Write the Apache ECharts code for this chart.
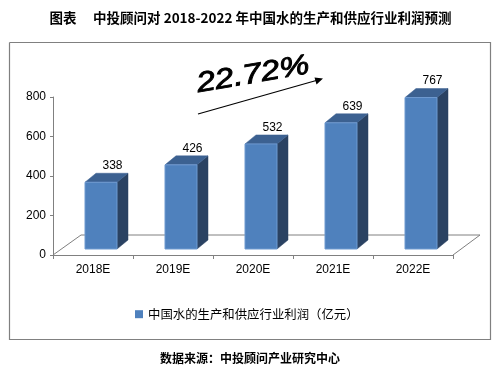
<!DOCTYPE html>
<html>
<head>
<meta charset="utf-8">
<script src="https://cdn.jsdelivr.net/npm/echarts@6/dist/echarts.min.js"></script>
<style>
html,body{margin:0;padding:0;background:#fff;}
#main{width:501px;height:371px;}
</style>
</head>
<body>
<div id="main"></div>
<script>
const categories = ['2018E', '2019E', '2020E', '2021E', '2022E'];
const profits = [338, 426, 532, 639, 767];
const seriesName = '中国水的生产和供应行业利润（亿元）';
const titleText = '图表　 中投顾问对 2018-2022 年中国水的生产和供应行业利润预测';
const sourceText = '数据来源：中投顾问产业研究中心';
const growthText = '22.72%';

const FRONT = '#4F81BD', SIDE = '#2A4262', TOP = '#3C6191';
const chart = echarts.init(document.getElementById('main'));

function renderBar(params, api) {
  const idx = api.value(0);
  const val = api.value(1);
  const p0 = api.coord([idx, 0]);
  const p1 = api.coord([idx, val]);
  const cx = p0[0];
  const base = p0[1] - 6;
  const top = p1[1] - 6;
  const l = cx - 8, r = cx + 24, dx = 11, dy = 9;
  return {
    type: 'group',
    children: [
      { type: 'polygon', shape: { points: [[r, base], [r + dx, base - dy], [r + dx, top - dy], [r, top]] },
        style: { fill: SIDE, stroke: SIDE, lineWidth: 0.5 } },
      { type: 'polygon', shape: { points: [[l, top], [l + dx, top - dy], [r + dx, top - dy], [r, top]] },
        style: { fill: TOP, stroke: TOP, lineWidth: 0.5 } },
      { type: 'rect', shape: { x: l, y: top, width: r - l, height: base - top },
        style: { fill: FRONT, stroke: '#6F9AD0', lineWidth: 1 } },
      { type: 'text', x: cx + 19.5, y: top - 16.5,
        style: { text: String(val), fill: '#000', font: '12px "Liberation Sans", Arial, sans-serif', align: 'center', verticalAlign: 'middle' } }
    ]
  };
}

chart.setOption({
  animation: false,
  backgroundColor: '#fff',
  title: {
    text: titleText, left: 'center', top: 6,
    textStyle: { fontSize: 13.5, fontWeight: 'bold', color: '#000', fontFamily: '"Noto Sans CJK SC", sans-serif' }
  },
  legend: {
    data: [seriesName], left: 130, top: 303,
    icon: 'rect', itemWidth: 8, itemHeight: 8,
    textStyle: { fontSize: 12.4, color: '#000', fontFamily: '"Noto Sans CJK SC", sans-serif' }
  },
  grid: { left: 53, right: 48, top: 97, bottom: 116 },
  xAxis: {
    type: 'category', data: categories, boundaryGap: true,
    axisLine: { lineStyle: { color: '#808080', width: 1 } },
    axisTick: { show: true, length: 4, lineStyle: { color: '#808080' } },
    axisLabel: { fontSize: 12, color: '#000', margin: 9, fontFamily: '"Liberation Sans", Arial, sans-serif' }
  },
  yAxis: {
    type: 'value', min: 0, max: 800, interval: 200,
    splitLine: { show: false },
    axisLine: { show: true, lineStyle: { color: '#808080', width: 1 } },
    axisTick: { show: true, length: 3, lineStyle: { color: '#808080' } },
    axisLabel: { fontSize: 12, color: '#000', margin: 7, fontFamily: '"Liberation Sans", Arial, sans-serif' }
  },
  series: [{
    name: seriesName, type: 'custom', renderItem: renderBar,
    itemStyle: { color: FRONT },
    data: profits.map((v, i) => [i, v]), z: 5
  }]
});

// floor (3D base) derived from the axis geometry
const c0 = chart.convertToPixel({ xAxisIndex: 0 }, 0);
const c1 = chart.convertToPixel({ xAxisIndex: 0 }, 1);
const step = c1 - c0;
const yZero = chart.convertToPixel({ yAxisIndex: 0 }, 0);
const xLeft = c0 - step / 2;
const xRight = xLeft + step * categories.length;
const fdx = 28, fdy = 20;
const gray = '#808080';
chart.setOption({
  graphic: [
    { type: 'polyline', z: 1, silent: true,
      shape: { points: [[9.5, 42.5], [490.5, 42.5], [490.5, 339.5], [9.5, 339.5], [9.5, 42.5]] },
      style: { fill: null, stroke: gray, lineWidth: 1.2 } },
    { type: 'polyline', z: 1, silent: true, shape: { points: [[xLeft, yZero], [xLeft + fdx, yZero - fdy], [xRight + fdx - 1, yZero - fdy], [xRight, yZero]] },
      style: { fill: null, stroke: gray, lineWidth: 1 } },
    { type: 'text', z: 10, x: 253, y: 75, rotation: 0.17, scaleX: 1.2, scaleY: 1,
      style: { text: growthText, font: 'italic 28px "Liberation Sans", Arial, sans-serif', fill: '#000', stroke: '#000', lineWidth: 0.9, align: 'center', verticalAlign: 'middle' } },
    { type: 'line', z: 10, shape: { x1: 198, y1: 114, x2: 318, y2: 80 }, style: { stroke: '#000', lineWidth: 1.2 } },
    { type: 'polygon', z: 10, shape: { points: [[323, 78.5], [314.5, 77.5], [316.5, 84.5]] }, style: { fill: '#000' } },
    { type: 'text', z: 10, x: 250, y: 358,
      style: { text: sourceText, font: 'bold 12px "Noto Sans CJK SC", sans-serif', fill: '#000', align: 'center', verticalAlign: 'middle' } }
  ]
});
</script>
</body>
</html>
